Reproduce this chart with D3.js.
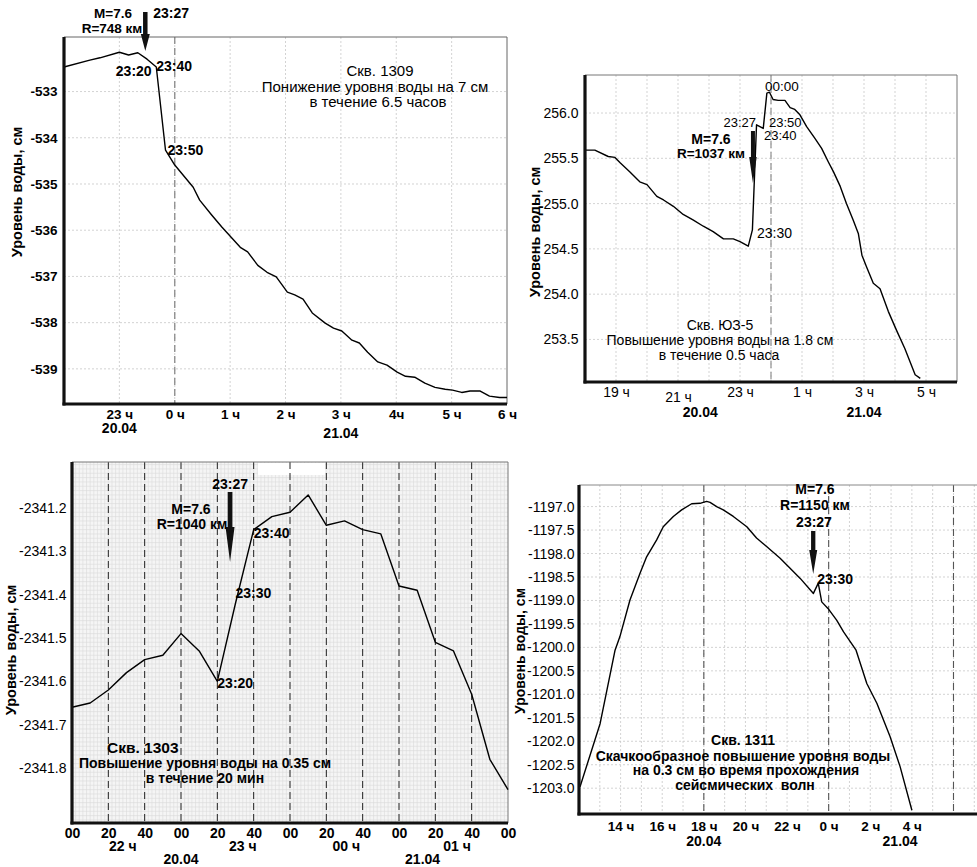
<!DOCTYPE html>
<html><head><meta charset="utf-8">
<script src="https://cdn.jsdelivr.net/npm/d3@7/dist/d3.min.js"></script>
<style>body{margin:0;background:#fff}svg{display:block}</style>
</head><body>
<svg id="c" width="977" height="867"></svg>
<script>
// ---------------- DATA ----------------
// Panel 1: Скв. 1309 (time of day, level in cm)
const p1Times = ["22:00","22:28","22:39","23:00","23:10","23:20","23:30","23:40","23:50","00:00","00:20","00:27","00:40","00:51","01:11","01:19","01:30","01:40","01:50","02:02","02:10","02:19","02:29","02:43","02:52","03:01","03:12","03:20","03:29","03:40","03:50","04:01","04:10","04:20","04:31","04:42","04:53","05:01","05:11","05:20","05:31","05:41","05:52","06:00"];
const p1Levels = [-532.47,-532.32,-532.27,-532.15,-532.21,-532.16,-532.30,-532.47,-534.27,-534.59,-535.07,-535.35,-535.67,-535.93,-536.37,-536.47,-536.76,-536.91,-537.01,-537.34,-537.40,-537.49,-537.79,-538.01,-538.12,-538.18,-538.38,-538.44,-538.64,-538.85,-538.92,-539.07,-539.16,-539.18,-539.31,-539.40,-539.44,-539.46,-539.51,-539.48,-539.48,-539.59,-539.62,-539.62];
const p1YTicks = [-533,-534,-535,-536,-537,-538,-539];
const p1XTickLabels = ["23 ч","0 ч","1 ч","2 ч","3 ч","4ч","5 ч","6 ч"];

// Panel 2: Скв. ЮЗ-5
const p2Times = ["18:00","18:19","18:45","18:58","19:08","19:27","19:46","20:00","20:19","20:32","20:51","21:10","21:29","21:49","22:08","22:28","22:47","23:00","23:16","23:24","23:32","23:45","23:52","23:57","00:04","00:14","00:27","00:37","00:46","00:56","01:09","01:25","01:38","01:51","02:01","02:14","02:26","02:39","02:49","02:56","03:05","03:18","03:31","03:47","04:03","04:19","04:39","04:49"];
const p2Levels = [255.59,255.59,255.52,255.51,255.45,255.35,255.24,255.21,255.08,255.04,254.97,254.88,254.82,254.75,254.69,254.61,254.61,254.58,254.53,254.71,255.87,255.83,256.22,256.23,256.15,256.14,256.14,256.06,256.04,255.98,255.85,255.72,255.61,255.46,255.35,255.19,255.00,254.82,254.67,254.43,254.30,254.12,254.06,253.81,253.60,253.40,253.11,253.07];
const p2YTicks = [253.5,254.0,254.5,255.0,255.5,256.0];
const p2XTickLabels = ["19 ч","21 ч","23 ч","1 ч","3 ч","5 ч"];

// Panel 3: Скв. 1303 (10-minute readings)
const p3Times = ["22:00","22:10","22:20","22:30","22:40","22:50","23:00","23:10","23:20","23:30","23:40","23:50","00:00","00:10","00:20","00:30","00:40","00:50","01:00","01:10","01:20","01:30","01:40","01:50","02:00"];
const p3Levels = [-2341.66,-2341.65,-2341.62,-2341.58,-2341.55,-2341.54,-2341.49,-2341.53,-2341.60,-2341.42,-2341.25,-2341.22,-2341.21,-2341.17,-2341.24,-2341.23,-2341.25,-2341.26,-2341.38,-2341.39,-2341.51,-2341.53,-2341.63,-2341.78,-2341.85];
const p3YTicks = [-2341.2,-2341.3,-2341.4,-2341.5,-2341.6,-2341.7,-2341.8];
const p3XTickLabels = ["00","20","40","00","20","40","00","20","40","00","20","40","00"];
const p3HourLabels = ["22 ч","23 ч","00 ч","01 ч"];

// Panel 4: Скв. 1311
const p4Times = ["12:03","13:01","13:44","13:58","14:27","14:56","15:15","15:44","16:03","16:32","16:56","17:25","17:49","18:08","18:18","18:37","18:56","19:25","20:04","20:32","21:01","21:40","22:08","22:38","23:16","23:30","23:40","23:58","00:23","00:43","01:19","01:50","02:19","02:57","03:26","04:00"];
const p4Levels = [-1202.97,-1201.62,-1200.06,-1199.77,-1198.99,-1198.42,-1198.07,-1197.71,-1197.43,-1197.21,-1197.07,-1196.94,-1196.93,-1196.89,-1196.91,-1197.00,-1197.07,-1197.21,-1197.43,-1197.67,-1197.85,-1198.10,-1198.31,-1198.53,-1198.85,-1198.63,-1199.03,-1199.17,-1199.42,-1199.67,-1200.06,-1200.77,-1201.19,-1201.90,-1202.54,-1203.47];
const p4YTicks = [-1197.0,-1197.5,-1198.0,-1198.5,-1199.0,-1199.5,-1200.0,-1200.5,-1201.0,-1201.5,-1202.0,-1202.5,-1203.0];
const p4XTickLabels = ["14 ч","16 ч","18 ч","20 ч","22 ч","0 ч","2 ч","4 ч"];

const quakeTime = "23:27";
const yTitle = "Уровень воды, см";

// ---------------- DRAWING ----------------
const FONT = '"Liberation Sans", Arial, Helvetica, sans-serif';
const svg = d3.select("#c");
// hours since 20.04 00:00 (times before noon belong to 21.04)
const hm = s => { const [h, m] = s.split(":").map(Number); return (h < 12 ? h + 24 : h) + m / 60; };
const f0 = d => d.toFixed(0);
const f1 = d => d.toFixed(1);

function txt(g, x, y, s, o = {}) {
  return g.append("text").attr("x", x).attr("y", y).text(s)
    .attr("font-family", FONT).attr("font-size", o.fs || 14)
    .attr("font-weight", o.fw || "normal").attr("text-anchor", o.anchor || "start")
    .attr("fill", "#000");
}
function vtitle(g, x, y, s, fs) {
  g.append("text").attr("transform", `translate(${x},${y}) rotate(-90)`).text(s)
    .attr("font-family", FONT).attr("font-size", fs).attr("font-weight", "bold")
    .attr("text-anchor", "middle").attr("fill", "#000");
}
function arrow(g, x, yTop, yTip, sw, hw, hl) {
  const p = d3.path();
  p.moveTo(x - sw / 2, yTop); p.lineTo(x + sw / 2, yTop); p.lineTo(x + sw / 2, yTip - hl);
  p.lineTo(x + hw / 2, yTip - hl); p.lineTo(x, yTip); p.lineTo(x - hw / 2, yTip - hl);
  p.lineTo(x - sw / 2, yTip - hl); p.closePath();
  g.append("path").attr("d", p.toString()).attr("fill", "#111");
}

function panel(o) {
  const g = svg.append("g");
  const x = d3.scaleLinear().domain(o.tDom).range([o.L, o.R]);
  const y = d3.scaleLinear().domain(o.vDom).range([o.B, o.T]);
  if (o.bg) o.bg(g, x, y);
  const grid = g.append("g").attr("stroke", o.gridColor || "#c8c8c8").attr("stroke-width", 0.8)
    .attr("stroke-dasharray", o.gridDash || "2,2");
  (o.vGrid || []).forEach(t => grid.append("line").attr("x1", x(t)).attr("x2", x(t)).attr("y1", o.T).attr("y2", o.B));
  (o.hGrid || []).forEach(v => grid.append("line").attr("x1", o.L).attr("x2", o.R).attr("y1", y(v)).attr("y2", y(v)));
  (o.dashT || []).forEach(t => g.append("line").attr("x1", x(t)).attr("x2", x(t)).attr("y1", o.T).attr("y2", o.B)
    .attr("stroke", o.dashColor || "#888").attr("stroke-width", o.dashW || 1.3).attr("stroke-dasharray", o.dashArr || "7,4"));
  g.append("line").attr("x1", o.L).attr("x2", o.R).attr("y1", o.T).attr("y2", o.T).attr("stroke", o.frameColor || "#666").attr("stroke-width", 1);
  if (o.rightBorder !== false)
    g.append("line").attr("x1", o.R).attr("x2", o.R).attr("y1", o.T).attr("y2", o.B).attr("stroke", o.frameColor || "#666").attr("stroke-width", 1);
  g.append("path").datum(o.times.map((t, i) => [hm(t), o.levels[i]]))
    .attr("d", d3.line().x(d => x(d[0])).y(d => y(d[1])))
    .attr("fill", "none").attr("stroke", "#000").attr("stroke-width", 1.4).attr("stroke-linejoin", "round");
  g.append("line").attr("x1", o.L).attr("x2", o.L).attr("y1", o.T).attr("y2", o.B + 1.5).attr("stroke", "#111").attr("stroke-width", 3.2);
  g.append("line").attr("x1", o.L - 1.5).attr("x2", o.R).attr("y1", o.B).attr("y2", o.B).attr("stroke", "#111").attr("stroke-width", 3.2);
  const ay = g.append("g").attr("transform", `translate(${o.L - 1.5},0)`)
    .call(d3.axisLeft(y).tickValues(o.yTicks).tickFormat(o.yFmt).tickSize(0).tickPadding(o.yPad));
  ay.select(".domain").remove();
  ay.selectAll("text").attr("font-family", FONT).attr("font-size", o.yFs).attr("font-weight", o.yFw).attr("fill", "#000");
  const ax = g.append("g").attr("transform", `translate(0,${o.B})`)
    .call(d3.axisBottom(x).tickValues(o.xTicks).tickFormat((d, i) => o.xLabels[i]).tickSize(0).tickPadding(o.xPad));
  ax.select(".domain").remove();
  ax.selectAll("text").attr("font-family", FONT).attr("font-size", o.xFs).attr("font-weight", o.xFw).attr("fill", "#000");
  return { g, x, y };
}

// ===== Panel 1 =====
{
  const P = panel({
    L: 64, R: 507, T: 37, B: 404, tDom: [22, 30], vDom: [-539.76, -531.82],
    times: p1Times, levels: p1Levels,
    vGrid: d3.range(23, 30), hGrid: p1YTicks, dashT: [24], dashColor: "#8a8a8a",
    yTicks: p1YTicks, yFmt: f0, yPad: 5, yFs: 13.5, yFw: "bold",
    xTicks: d3.range(23, 31), xLabels: p1XTickLabels, xPad: 5, xFs: 13.5, xFw: "bold"
  });
  const g = P.g, x = P.x;
  txt(g, x(23), 433, "20.04", { fs: 14, fw: "bold", anchor: "middle" });
  txt(g, x(27), 438, "21.04", { fs: 14, fw: "bold", anchor: "middle" });
  vtitle(g, 22, 192, yTitle, 14.5);
  const qx = x(hm(quakeTime));
  arrow(g, qx + 1, 12, 51, 4.5, 9, 17);
  txt(g, 113, 18, "M=7.6", { fs: 13.5, fw: "bold", anchor: "middle" });
  txt(g, 112, 33, "R=748 км", { fs: 13.5, fw: "bold", anchor: "middle" });
  txt(g, qx + 9, 18, "23:27", { fs: 14, fw: "bold" });
  txt(g, x(hm("23:20")) - 22, 76, "23:20", { fs: 14, fw: "bold" });
  txt(g, x(hm("23:40")), 71, "23:40", { fs: 14, fw: "bold" });
  txt(g, x(hm("23:50")) + 2, 155, "23:50", { fs: 14, fw: "bold" });
  txt(g, 380, 76, "Скв. 1309", { fs: 15, anchor: "middle" });
  txt(g, 375, 92, "Понижение уровня воды на 7 см", { fs: 15, anchor: "middle" });
  txt(g, 378, 107, "в течение 6.5 часов", { fs: 15, anchor: "middle" });
}

// ===== Panel 2 =====
{
  const P = panel({
    L: 585, R: 957, T: 75, B: 382, tDom: [18, 30], vDom: [253.03, 256.42],
    times: p2Times, levels: p2Levels,
    vGrid: d3.range(19, 30), hGrid: p2YTicks, dashT: [24], dashColor: "#999", frameColor: "#777",
    yTicks: p2YTicks, yFmt: f1, yPad: 5, yFs: 14, yFw: "normal",
    xTicks: [19, 21, 23, 25, 27, 29], xLabels: p2XTickLabels, xPad: 5, xFs: 14, xFw: "normal"
  });
  const g = P.g, x = P.x;
  g.selectAll(".tick text").filter(function () { return this.textContent === "21 ч"; }).attr("y", 10);
  txt(g, x(hm("21:43")), 417, "20.04", { fs: 14, fw: "bold", anchor: "middle" });
  txt(g, x(27), 417, "21.04", { fs: 14, fw: "bold", anchor: "middle" });
  vtitle(g, 540, 232, yTitle, 14.5);
  const qx = x(hm(quakeTime));
  arrow(g, qx - 1, 131, 183, 4, 7.5, 26);
  txt(g, 711, 144, "M=7.6", { fs: 14, fw: "bold", anchor: "middle" });
  txt(g, 711, 158, "R=1037 км", { fs: 13.5, fw: "bold", anchor: "middle" });
  txt(g, 782, 91, "00:00", { fs: 13.5, anchor: "middle" });
  txt(g, 756, 127, "23:27", { fs: 13, anchor: "end" });
  txt(g, 769, 127, "23:50", { fs: 13 });
  txt(g, 764, 140, "23:40", { fs: 13 });
  txt(g, 757, 238, "23:30", { fs: 14 });
  txt(g, 720, 330, "Скв. ЮЗ-5", { fs: 14, anchor: "middle" });
  txt(g, 720, 345, "Повышение уровня воды на 1.8 см", { fs: 14, anchor: "middle" });
  txt(g, 719, 360, "в течение 0.5 часа", { fs: 14, anchor: "middle" });
}

// ===== Panel 3 =====
{
  const L = 72, R = 508, T = 462, B = 823;
  const P = panel({
    L, R, T, B, tDom: [22, 26], vDom: [-2341.927, -2341.094],
    times: p3Times, levels: p3Levels,
    bg: (g, x, y) => {
      g.append("rect").attr("x", L).attr("y", T).attr("width", R - L).attr("height", B - T).attr("fill", "#f5f5f5");
      const mg = g.append("g").attr("stroke", "#dadada").attr("stroke-width", 0.6);
      d3.range(22, 26, 1 / 30).forEach(t => mg.append("line").attr("x1", x(t)).attr("x2", x(t)).attr("y1", T).attr("y2", B));
      d3.range(-2341.92, -2341.09, 0.01).forEach(v => mg.append("line").attr("x1", L).attr("x2", R).attr("y1", y(v)).attr("y2", y(v)));
      g.append("rect").attr("x", 258).attr("y", T + 1).attr("width", 67).attr("height", 12).attr("fill", "#fff");
    },
    vGrid: [], hGrid: [],
    dashT: d3.range(1, 12).map(i => 22 + i / 3), dashColor: "#222", dashW: 1, dashArr: "7,4", frameColor: "#777",
    yTicks: p3YTicks, yFmt: f1, yPad: 4, yFs: 14, yFw: "normal",
    xTicks: d3.range(0, 13).map(i => 22 + i / 3), xLabels: p3XTickLabels, xPad: 5, xFs: 14, xFw: "bold"
  });
  const g = P.g, x = P.x;
  ["22:28", "23:34", "00:31", "01:32"].forEach((t, i) => txt(g, x(hm(t)), 851, p3HourLabels[i], { fs: 14, fw: "bold", anchor: "middle" }));
  txt(g, x(23), 864, "20.04", { fs: 14, fw: "bold", anchor: "middle" });
  txt(g, x(hm("01:13")), 864, "21.04", { fs: 14, fw: "bold", anchor: "middle" });
  vtitle(g, 16, 650, yTitle, 14.5);
  const qx = x(hm(quakeTime));
  arrow(g, qx, 492, 562, 4.7, 9, 35);
  txt(g, qx, 489, "23:27", { fs: 14, fw: "bold", anchor: "middle" });
  txt(g, 191, 514, "M=7.6", { fs: 14, fw: "bold", anchor: "middle" });
  txt(g, 192, 529, "R=1040 км", { fs: 14, fw: "bold", anchor: "middle" });
  txt(g, x(hm("23:40")), 538, "23:40", { fs: 14, fw: "bold" });
  txt(g, x(hm("23:30")), 598, "23:30", { fs: 14, fw: "bold" });
  txt(g, x(hm("23:20")), 688, "23:20", { fs: 14, fw: "bold" });
  txt(g, 107, 753, "Скв. 1303", { fs: 15.5, fw: "bold" });
  txt(g, 205, 768, "Повышение уровня воды на 0.35 см", { fs: 14, fw: "bold", anchor: "middle" });
  txt(g, 205, 783, "в течение 20 мин", { fs: 14, fw: "bold", anchor: "middle" });
}

// ===== Panel 4 =====
{
  const P = panel({
    L: 579, R: 977, T: 485, B: 814, tDom: [12, 31.13], vDom: [-1203.55, -1196.54],
    times: p4Times, levels: p4Levels, rightBorder: false,
    vGrid: d3.range(13, 32), hGrid: p4YTicks, dashT: [18, 24, 30], dashColor: "#555", dashW: 1.1, frameColor: "#888",
    yTicks: p4YTicks, yFmt: f1, yPad: 3, yFs: 14, yFw: "normal",
    xTicks: [14, 16, 18, 20, 22, 24, 26, 28], xLabels: p4XTickLabels, xPad: 7, xFs: 13.5, xFw: "bold"
  });
  const g = P.g, x = P.x;
  txt(g, x(18), 846, "20.04", { fs: 14, fw: "bold", anchor: "middle" });
  txt(g, x(hm("03:26")), 846, "21.04", { fs: 14, fw: "bold", anchor: "middle" });
  vtitle(g, 525, 651, yTitle, 14);
  const qx = x(hm(quakeTime)) - 4;
  arrow(g, qx, 531, 574, 4.3, 8, 24);
  txt(g, 815, 494, "M=7.6", { fs: 14, fw: "bold", anchor: "middle" });
  txt(g, 815, 510, "R=1150 км", { fs: 14, fw: "bold", anchor: "middle" });
  txt(g, 814, 527, "23:27", { fs: 14, fw: "bold", anchor: "middle" });
  txt(g, x(hm("23:30")) - 1, 584, "23:30", { fs: 14, fw: "bold" });
  txt(g, 743, 745, "Скв. 1311", { fs: 14, fw: "bold", anchor: "middle" });
  txt(g, 743, 761, "Скачкообразное повышение уровня воды", { fs: 14, fw: "bold", anchor: "middle" });
  txt(g, 746, 775, "на 0.3 см во время прохождения", { fs: 14, fw: "bold", anchor: "middle" });
  txt(g, 745, 790, "сейсмических  волн", { fs: 14, fw: "bold", anchor: "middle" }).style("white-space", "pre");
}
</script>
</body></html>
